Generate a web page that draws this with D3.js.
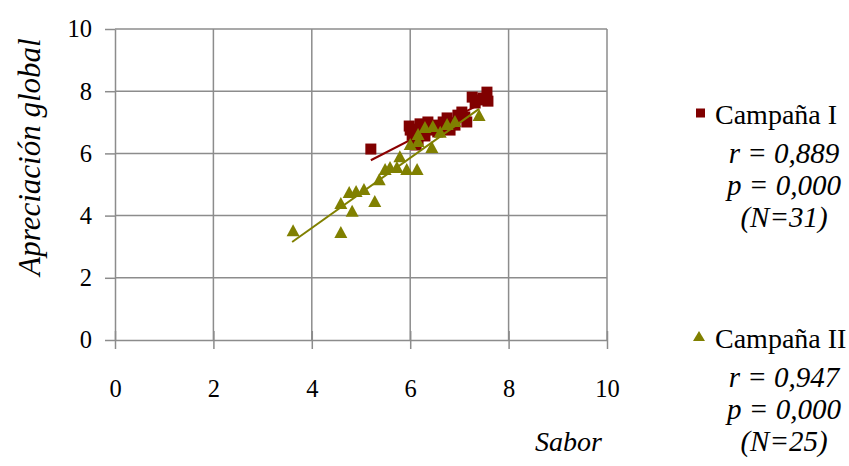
<!DOCTYPE html>
<html><head><meta charset="utf-8">
<script src="https://cdn.jsdelivr.net/npm/d3@7"></script>
<style>body{margin:0;background:#fff}svg{display:block}</style>
</head><body><svg id="c" width="849" height="466"></svg>
<script>
const FONT = "'Liberation Serif', 'DejaVu Serif', serif";
const xTicks = [0, 2, 4, 6, 8, 10];
const yTicks = [0, 2, 4, 6, 8, 10];
const xLabel = "Sabor";
const yLabel = "Apreciación global";
const seriesNames = ["Campaña I", "Campaña II"];
const seriesStats = [["r = 0,889", "p = 0,000", "(N=31)"], ["r = 0,947", "p = 0,000", "(N=25)"]];
// Campaña I (squares)
const c1x = [5.20,5.98,6.08,6.04,6.12,6.16,6.36,6.24,6.50,6.61,6.75,6.77,6.91,7.05,7.15,7.26,7.38,7.56,7.58,7.11,6.40,6.20,6.67,6.97,6.81,6.08,6.30,7.32,7.48,6.56,6.00];
const c1y = [6.14,6.88,6.78,6.59,6.27,6.43,7.01,6.75,6.91,6.82,7.14,6.85,6.91,7.33,7.01,7.81,7.72,7.97,7.68,7.17,6.75,6.95,7.01,7.23,6.75,6.50,6.56,7.62,7.78,6.69,6.75];
// Campaña II (triangles)
const c2x = [3.62,4.59,4.59,4.76,4.82,4.90,5.06,5.28,5.37,5.49,5.59,5.79,5.73,5.93,6.14,6.16,6.16,6.44,6.46,6.61,6.75,6.91,7.40,6.00,6.30];
const c2y = [3.50,3.44,4.37,4.73,4.12,4.76,4.82,4.44,5.14,5.47,5.53,5.88,5.53,5.47,5.47,6.59,6.37,6.17,6.85,6.66,6.91,7.01,7.20,6.27,6.82];
// linear trend lines: [x, y] at both ends
const trend1 = [[5.20, 5.78], [7.58, 7.71]];
const trend2 = [[3.60, 3.15], [7.40, 7.43]];

const colors = {sq:"#800000", tri:"#808000", line1:"#8b0000", line2:"#808000", grid:"#8c8c8c"};
const svg = d3.select("#c");
const x = d3.scaleLinear().domain([0,10]).range([115,607]);
const y = d3.scaleLinear().domain([0,10]).range([340,29]);

svg.append("g").selectAll("line").data(xTicks.slice(1)).join("line")
  .attr("x1",d=>x(d)).attr("x2",d=>x(d)).attr("y1",y(0)).attr("y2",y(10))
  .attr("stroke",colors.grid).attr("stroke-width",1.5);
svg.append("g").selectAll("line").data(yTicks.slice(1)).join("line")
  .attr("y1",d=>y(d)).attr("y2",d=>y(d)).attr("x1",x(0)).attr("x2",x(10))
  .attr("stroke",colors.grid).attr("stroke-width",1.5);

const xa = svg.append("g").attr("transform",`translate(0,${y(0)})`)
  .call(d3.axisBottom(x).tickValues(xTicks).tickSize(9).tickPadding(31).tickSizeOuter(0));
const ya = svg.append("g").attr("transform",`translate(${x(0)},0)`)
  .call(d3.axisLeft(y).tickValues(yTicks).tickSize(10).tickPadding(13).tickSizeOuter(0));
[xa,ya].forEach(a=>{
  a.attr("font-family",FONT);
  a.select(".domain").attr("stroke",colors.grid).attr("stroke-width",1.5);
  a.selectAll(".tick line").attr("stroke",colors.grid).attr("stroke-width",1.5);
  a.selectAll(".tick text").attr("font-size",24.5).attr("fill","#000");
});
xa.selectAll(".tick line").attr("y1",-9);

const line = d3.line().x(d=>x(d[0])).y(d=>y(d[1]));
const d1 = c1x.map((v,i)=>[v,c1y[i]]);
const d2 = c2x.map((v,i)=>[v,c2y[i]]);
svg.append("path").attr("d",line(trend1)).attr("stroke",colors.line1).attr("stroke-width",2).attr("fill","none");
svg.append("g").selectAll("rect").data(d1).join("rect")
  .attr("x",d=>x(d[0])-5.5).attr("y",d=>y(d[1])-5.5).attr("width",11).attr("height",11).attr("fill",colors.sq);
svg.append("g").selectAll("path").data(d2).join("path")
  .attr("d",d=>`M${x(d[0])},${y(d[1])-7}L${x(d[0])+6.5},${y(d[1])+5}L${x(d[0])-6.5},${y(d[1])+5}Z`)
  .attr("fill",colors.tri);
svg.append("path").attr("d",line(trend2)).attr("stroke",colors.line2).attr("stroke-width",2).attr("fill","none");

svg.append("text").attr("x",535).attr("y",451).attr("font-family",FONT).attr("font-size",28).attr("font-style","italic").text(xLabel);
svg.append("text").attr("transform","translate(40,157) rotate(-90)").attr("text-anchor","middle")
  .attr("font-family",FONT).attr("font-size",31).attr("font-style","italic").text(yLabel);

const legY = [113, 337];
legY.forEach((ly,i)=>{
  const g = svg.append("g").attr("font-family",FONT);
  if(i===0) g.append("rect").attr("x",696).attr("y",ly-4.5).attr("width",9).attr("height",9).attr("fill",colors.sq);
  else g.append("path").attr("d",`M699,${ly-6}L705,${ly+4}L693,${ly+4}Z`).attr("fill",colors.tri);
  g.append("text").attr("x",715).attr("y",ly+11).attr("font-size",28).text(seriesNames[i]);
  seriesStats[i].forEach((s,j)=>{
    g.append("text").attr("x",784).attr("y",ly+50+j*32).attr("text-anchor","middle")
      .attr("font-size",29).attr("font-style","italic").text(s);
  });
});
</script></body></html>
